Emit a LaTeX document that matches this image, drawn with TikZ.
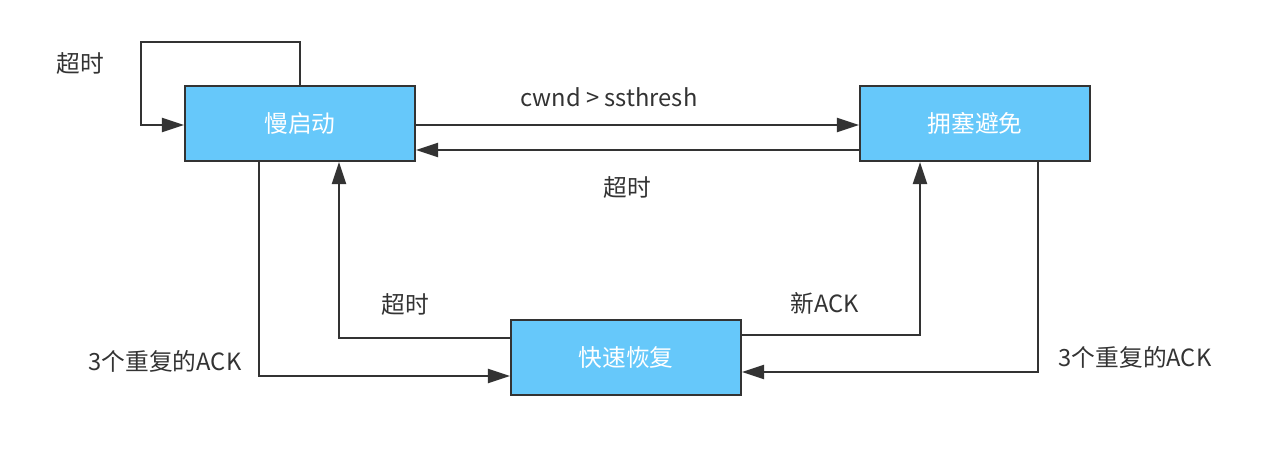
\documentclass[tikz,border=0pt]{standalone}
\usepackage{fontspec}
\setmainfont{Noto Sans CJK SC}
\usetikzlibrary{arrows.meta}
\definecolor{boxblue}{HTML}{66C8FA}
\definecolor{linegray}{HTML}{333333}
\tikzset{
    state/.style={draw=linegray, line width=1.2pt, fill=boxblue, text=white,
        minimum width=4.6cm, minimum height=1.5cm, font=\fontsize{13.5}{16}\selectfont},
    trans/.style={draw=linegray, line width=1.2pt,
        -{Triangle[length=0.44cm, width=0.28cm]}},
    lbl/.style={text=linegray, font=\fontsize{13.5}{16}\selectfont}
}

\begin{document}
\begin{tikzpicture}[x=0.02cm, y=-0.02cm]
        \useasboundingbox (0,0) rectangle (1280,457);
        \node[state] (slow) at (300,123.5) {慢启动};
        \node[state] (cong) at (975,123.5) {拥塞避免};
        \node[state] (fast) at (626,357.5) {快速恢复};
        \coordinate (loopA) at (300,42);
        \coordinate (loopB) at (141,42);
        \coordinate (loopC) at (141,125);
        \draw[trans] (slow.north) -- (loopA) -- (loopB) -- (loopC) -- (slow.west |- loopC);
        \node[lbl] (tmLoop) at (80,63) {超时};
        \draw[trans] ([yshift=-0.03cm]slow.east) -- ([yshift=-0.03cm]cong.west);
        \node[lbl] (cwnd) at (609,97) {cwnd > ssthresh};
        \draw[trans] ([yshift=-0.53cm]cong.west) -- ([yshift=-0.53cm]slow.east);
        \node[lbl] (tmBack) at (627,187) {超时};
        \draw[trans] ([xshift=-0.82cm]slow.south) |- ([yshift=-0.37cm]fast.west);
        \node[lbl] (dupL) at (165,361) {3个重复的ACK};
        \draw[trans] ([yshift=0.39cm]fast.west) -| ([xshift=0.78cm]slow.south);
        \node[lbl] (tmFast) at (405,304) {超时};
        \draw[trans] ([yshift=0.45cm]fast.east) -| ([xshift=-1.1cm]cong.south);
        \node[lbl] (newAck) at (825,303) {新ACK};
        \draw[trans] ([xshift=1.26cm]cong.south) |- ([yshift=-0.29cm]fast.east);
        \node[lbl] (dupR) at (1135,357) {3个重复的ACK};
    \end{tikzpicture}
\end{document}
